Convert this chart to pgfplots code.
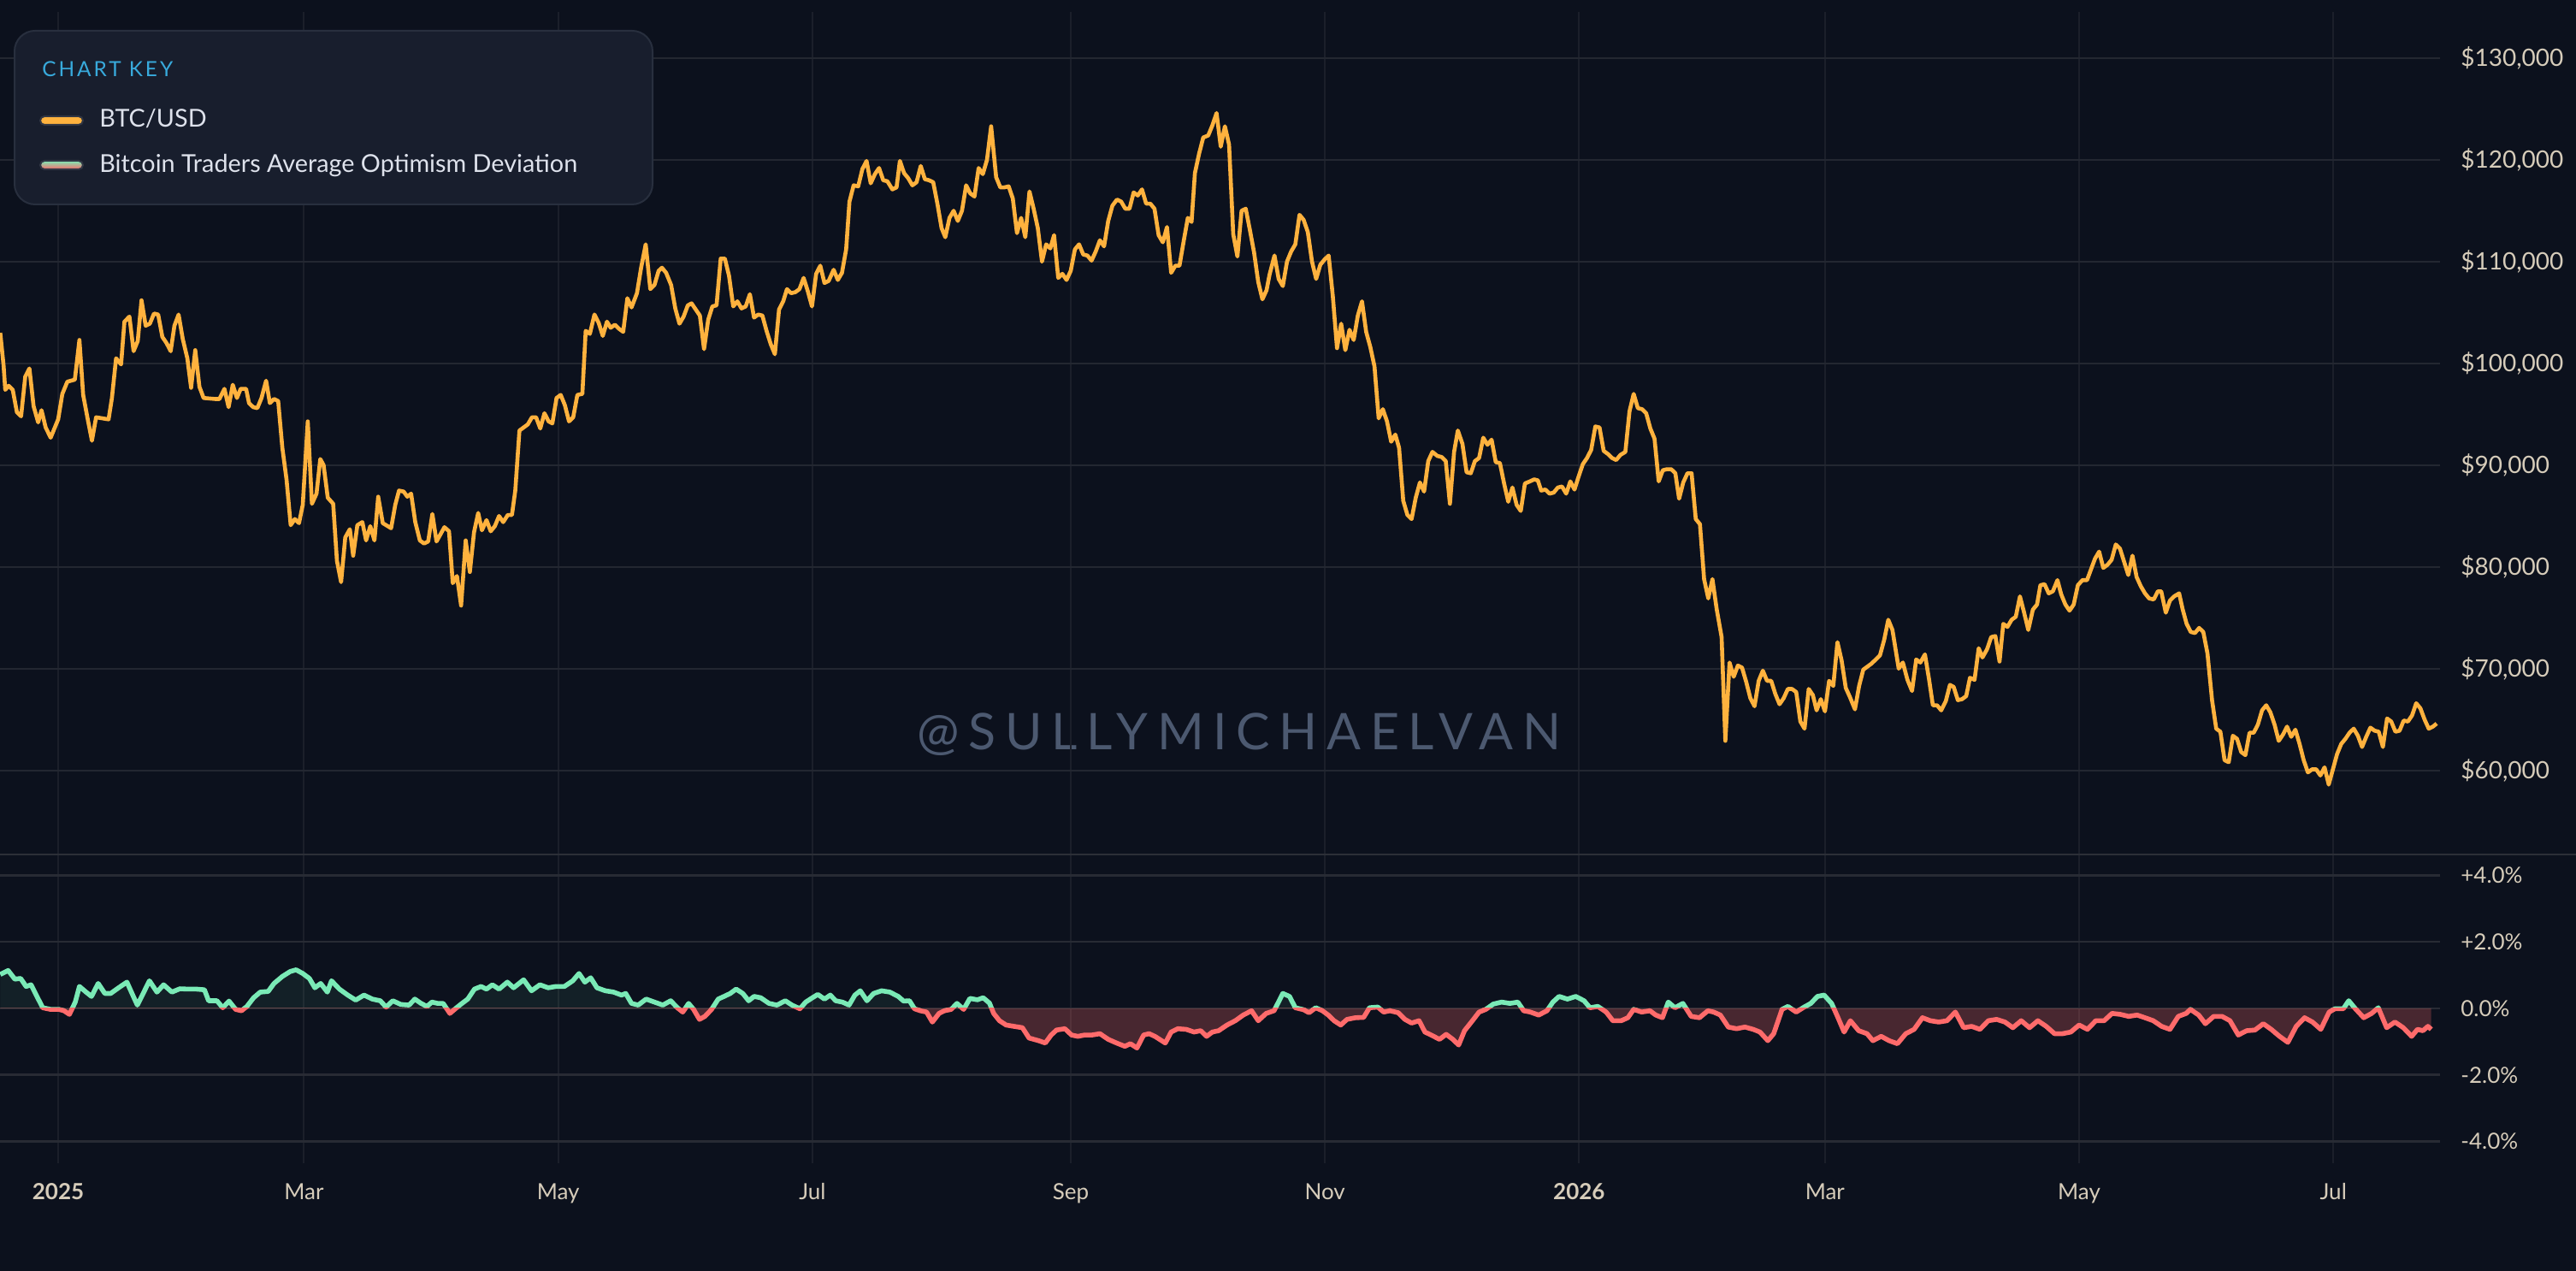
\documentclass[border=0pt]{standalone}
\usepackage{fontspec}
\setmainfont{Lato}
\newfontfamily\keyfont{Lato}[LetterSpace=12]
\newfontfamily\wmfont{Lato}[LetterSpace=18]
\usepackage{pgfplots}
\usepackage{pgfplotstable}
\pgfplotsset{compat=1.18}

\definecolor{bgc}{RGB}{12,17,29}
\definecolor{gridc}{RGB}{35,39,49}
\definecolor{vgridc}{RGB}{27,31,42}
\definecolor{bgridc}{RGB}{40,43,52}
\definecolor{sepc}{RGB}{44,47,55}
\definecolor{orangec}{RGB}{255,178,62}
\definecolor{greenc}{RGB}{122,234,182}
\definecolor{redc}{RGB}{255,107,107}
\definecolor{labc}{RGB}{214,204,186}
\definecolor{legbg}{RGB}{24,30,45}
\definecolor{legbd}{RGB}{40,47,62}
\definecolor{keyc}{RGB}{56,170,220}
\definecolor{legtext}{RGB}{222,226,236}
\definecolor{wmc}{RGB}{76,89,112}
\definecolor{swbd}{RGB}{48,54,68}

% BTC/USD in thousands of dollars; d = days since 1 Jan 2025
\pgfplotstableread{
d v
-13.9 103.0
-13.1 99.8
-12.7 97.4
-11.9 97.8
-10.9 97.4
-9.9 95.2
-8.9 94.8
-7.9 98.7
-6.9 99.5
-5.9 95.8
-4.8 94.2
-4.0 95.4
-3.0 93.7
-1.8 92.7
0.0 94.5
1.0 97.0
2.2 98.2
4.0 98.4
5.1 102.3
6.0 96.9
7.1 94.5
8.1 92.4
9.1 94.7
12.1 94.5
12.9 96.6
13.9 100.5
15.1 99.9
15.9 104.1
17.1 104.6
18.1 101.2
19.1 102.2
20.0 106.2
21.0 103.7
22.0 103.9
23.0 104.9
24.0 104.8
25.0 102.6
26.0 102.0
27.0 101.2
27.9 103.7
28.9 104.8
29.9 102.4
31.0 100.5
31.9 97.6
32.9 101.3
33.9 97.7
34.9 96.6
37.7 96.5
38.7 96.5
39.9 97.5
40.9 95.7
41.9 97.9
42.9 96.6
43.8 97.5
45.1 97.5
45.8 96.1
46.8 95.7
47.8 95.6
48.8 96.6
49.9 98.3
50.8 96.1
51.8 96.5
52.8 96.3
53.8 91.7
54.8 88.6
55.8 84.1
56.8 84.7
57.8 84.3
58.7 86.1
59.9 94.3
60.9 86.2
62.0 87.2
62.9 90.6
63.7 90.0
64.7 86.8
66.0 86.2
66.9 80.6
67.9 78.5
68.9 82.9
70.0 83.7
70.8 81.1
71.8 84.1
73.0 84.4
73.9 82.6
74.9 84.0
75.9 82.6
76.8 86.9
77.9 84.3
79.9 83.8
80.9 86.1
81.8 87.5
82.9 87.4
83.8 86.9
84.7 87.2
85.7 84.4
86.8 82.6
87.8 82.3
88.8 82.5
89.8 85.2
90.8 82.5
92.7 83.9
93.8 83.5
94.7 78.4
95.7 79.1
96.7 76.2
97.8 82.6
98.8 79.5
99.8 83.4
100.8 85.3
101.7 83.6
102.8 84.6
103.8 83.5
104.8 84.0
105.8 85.0
106.8 84.4
107.9 85.1
108.9 85.1
109.7 87.5
110.7 93.4
111.7 93.7
112.7 94.0
113.7 94.7
114.7 94.7
115.7 93.6
116.7 95.1
117.7 94.3
118.6 94.1
119.6 96.6
120.6 96.9
121.6 95.9
122.6 94.3
123.6 94.7
124.6 96.9
125.8 97.0
126.6 103.2
127.6 102.9
128.7 104.8
129.7 104.0
130.7 102.7
131.7 104.1
132.6 103.5
133.6 103.8
134.6 103.4
135.6 103.1
136.6 106.4
137.6 105.5
138.9 106.9
139.9 109.4
141.0 111.7
142.1 107.3
143.1 107.7
144.1 109.1
144.9 109.4
145.9 108.9
147.1 107.7
148.1 105.4
149.1 103.9
150.1 104.6
151.1 105.7
152.0 105.9
153.0 105.3
154.0 104.7
155.0 101.4
156.0 104.3
157.0 105.6
158.0 105.7
159.0 110.3
160.0 110.3
161.0 108.6
162.0 105.6
163.0 106.1
164.0 105.4
165.0 105.6
166.0 106.8
167.0 104.5
168.0 104.8
169.0 104.7
170.0 103.2
171.0 101.9
172.0 100.9
173.0 105.3
174.0 106.1
174.9 107.3
175.9 106.9
176.9 107.0
177.9 107.3
178.9 108.4
179.9 107.1
180.9 105.6
181.9 108.8
182.9 109.6
183.9 107.9
184.9 108.1
186.1 109.2
187.1 108.2
188.1 108.9
189.1 111.2
189.9 115.9
190.9 117.5
192.0 117.4
193.0 119.1
194.0 119.9
195.0 117.7
196.0 118.6
197.0 119.2
198.0 118.0
199.0 117.9
200.2 117.1
201.2 117.3
202.0 119.9
203.0 118.7
204.0 118.2
205.0 117.5
206.0 117.8
207.0 119.4
208.0 118.1
209.0 118.0
210.0 117.8
211.0 115.7
212.0 113.3
212.9 112.4
213.9 114.3
214.9 115.0
215.9 114.0
216.9 115.0
217.9 117.5
218.9 116.7
219.9 116.4
220.9 119.2
221.9 118.6
222.9 120.0
223.9 123.3
225.1 118.3
226.1 117.3
227.1 117.3
228.1 117.4
229.1 116.2
230.1 112.8
231.1 114.3
232.1 112.4
233.1 116.9
234.1 115.2
235.1 113.3
236.1 110.0
237.1 111.7
238.1 111.3
239.0 112.6
240.0 108.4
241.0 108.8
242.0 108.2
243.0 109.1
244.0 111.2
245.0 111.7
246.0 110.7
247.0 110.6
248.0 110.1
249.0 111.0
250.0 112.1
251.0 111.5
252.0 114.0
253.0 115.5
254.1 116.1
255.1 115.9
256.1 115.2
257.1 115.2
258.1 116.8
259.1 116.5
260.1 117.1
261.1 115.7
262.1 115.7
263.1 115.2
264.1 112.6
265.1 111.9
266.1 113.4
267.1 108.9
268.1 109.6
269.1 109.6
270.1 112.0
271.1 114.3
272.0 113.9
272.8 118.7
273.8 120.6
274.8 122.2
276.0 122.4
277.0 123.4
278.0 124.6
279.0 121.3
280.0 123.3
281.0 121.5
282.0 112.7
283.0 110.5
284.0 115.0
285.0 115.2
286.0 113.1
287.0 110.9
288.0 108.0
289.0 106.3
290.0 107.2
290.7 108.7
291.9 110.6
292.9 108.3
293.9 107.6
294.9 110.0
295.9 111.0
296.9 111.7
297.9 114.6
298.9 114.1
299.9 112.9
300.9 110.0
301.9 108.3
302.9 109.7
303.9 110.2
304.9 110.6
305.9 106.6
306.9 101.5
307.9 103.9
308.9 101.3
309.9 103.3
310.9 102.3
311.9 104.7
312.9 106.1
313.9 103.1
314.9 101.6
315.9 99.7
316.9 94.6
317.9 95.5
318.9 94.3
319.9 92.3
320.9 93.0
321.8 91.7
322.8 86.5
323.8 85.1
324.8 84.7
325.8 86.8
326.8 88.3
327.8 87.4
328.8 90.4
329.8 91.3
331.0 90.9
332.0 90.8
333.0 90.4
334.0 86.2
335.0 91.3
335.9 93.4
337.0 92.1
338.0 89.3
339.0 89.2
340.0 90.4
341.0 90.7
342.0 92.7
343.0 92.0
344.0 92.5
345.0 90.3
346.0 90.2
347.0 88.2
348.0 86.4
349.0 87.8
350.0 86.1
351.0 85.5
352.0 88.2
353.2 88.4
354.2 88.6
355.1 88.5
355.9 87.5
356.9 87.6
357.9 87.2
358.9 87.3
359.9 87.8
360.9 87.9
361.9 87.2
362.9 88.4
363.9 87.6
364.9 88.9
365.9 90.1
366.9 90.7
367.9 91.5
368.9 93.8
369.9 93.7
370.9 91.4
371.9 91.1
372.9 90.7
373.9 90.5
374.9 91.0
376.1 91.3
377.1 95.3
378.1 97.0
379.1 95.6
380.1 95.5
381.1 95.1
382.1 93.6
383.1 92.6
384.1 88.4
385.1 89.5
386.1 89.6
387.1 89.6
388.1 89.2
389.0 86.7
390.0 88.3
391.0 89.2
392.0 89.2
393.0 84.7
394.0 84.2
395.0 78.8
396.0 76.9
397.0 78.8
398.0 75.9
399.2 73.1
400.1 62.9
401.1 70.6
402.1 69.2
403.1 70.3
404.1 70.1
405.1 68.7
406.1 67.1
407.1 66.3
408.1 68.8
409.1 69.8
410.1 68.8
411.1 68.8
412.1 67.5
413.1 66.5
414.1 67.1
415.1 68.0
416.1 68.0
417.1 67.7
418.1 64.8
419.1 64.1
420.1 68.0
421.1 67.4
422.0 65.9
423.0 67.0
424.0 65.8
425.0 68.8
426.0 68.3
427.0 72.6
428.0 70.8
429.0 68.1
430.0 67.2
431.2 66.0
432.2 68.3
433.2 69.9
434.2 70.2
435.2 70.5
436.2 70.9
437.2 71.3
438.2 72.8
439.2 74.8
440.2 73.8
441.7 70.0
442.7 70.6
443.8 68.9
444.9 67.8
445.9 70.9
446.9 70.6
448.0 71.4
449.0 68.9
449.9 66.4
450.9 66.4
451.9 65.9
453.0 66.8
454.0 68.4
454.9 68.2
455.9 66.9
456.9 67.0
457.9 67.3
458.8 69.1
459.9 68.9
460.9 72.0
461.8 71.1
462.9 71.9
463.9 73.1
464.9 73.2
465.9 70.7
466.8 74.4
467.8 74.1
468.8 74.8
469.8 75.1
470.8 77.1
471.8 75.5
472.8 73.8
473.9 75.8
474.9 76.3
475.7 78.2
476.7 78.3
477.7 77.4
478.7 77.6
479.8 78.7
480.7 77.3
481.7 76.3
482.7 75.7
483.7 76.3
484.7 78.2
485.8 78.7
486.9 78.7
487.8 79.7
488.8 80.8
489.8 81.5
490.8 79.9
491.8 80.2
492.8 80.7
493.8 82.2
494.8 81.8
495.8 80.5
496.8 79.2
497.8 81.1
498.8 79.0
499.8 78.1
500.8 77.4
501.8 76.9
502.9 76.8
503.9 77.6
504.7 77.6
505.8 75.5
506.8 76.7
507.8 77.1
509.0 77.4
509.8 75.9
510.8 74.4
511.8 73.6
512.8 73.5
513.8 74.0
514.8 73.6
515.8 71.5
516.9 66.9
517.9 64.1
518.9 63.8
519.9 61.0
520.9 60.8
521.9 63.4
522.9 63.1
523.9 61.8
524.9 61.5
525.9 63.7
526.9 63.7
527.9 64.5
528.9 65.9
529.9 66.4
530.9 65.7
531.9 64.5
532.9 62.9
533.9 63.5
534.9 64.3
535.9 63.3
536.9 64.0
537.9 62.6
538.9 61.0
539.9 59.8
540.9 60.1
541.9 60.1
542.9 59.5
543.9 60.3
544.9 58.6
545.9 60.1
546.9 61.6
547.9 62.6
548.9 63.1
549.9 63.7
550.9 64.1
551.9 63.4
552.9 62.3
553.9 63.3
554.9 64.2
555.9 63.9
556.9 63.8
557.9 62.3
558.9 65.1
559.9 64.8
560.9 63.8
561.9 63.9
562.9 64.9
563.9 64.8
564.9 65.4
565.9 66.6
566.9 66.1
567.9 65.0
568.9 64.1
569.9 64.3
570.8 64.6
}\btc

% Bitcoin Traders Average Optimism Deviation, percent
\pgfplotstableread{
d v
-13.9 1.02
-12.0 1.14
-10.4 0.88
-9.0 0.90
-7.7 0.66
-6.5 0.71
-5.1 0.36
-3.7 0.02
-1.8 -0.03
0.2 -0.03
1.4 -0.07
2.7 -0.18
4.1 0.19
5.1 0.66
6.7 0.49
8.0 0.36
9.6 0.75
11.2 0.45
12.6 0.45
14.5 0.62
16.5 0.79
17.9 0.40
19.0 0.10
20.4 0.45
21.9 0.83
23.7 0.49
25.3 0.71
27.3 0.49
29.2 0.59
31.2 0.58
33.2 0.58
35.1 0.56
36.1 0.23
38.1 0.23
39.5 0.02
41.0 0.22
42.6 -0.03
44.0 -0.07
45.3 0.06
46.9 0.32
48.5 0.49
50.4 0.51
51.8 0.75
53.8 0.96
55.7 1.11
57.1 1.16
58.7 1.05
60.3 0.90
61.6 0.62
63.0 0.75
64.6 0.49
65.6 0.83
67.5 0.58
69.5 0.40
71.4 0.25
73.4 0.40
75.4 0.28
77.3 0.23
78.7 0.04
80.3 0.23
82.2 0.12
84.2 0.10
85.6 0.28
87.1 0.15
88.5 0.06
89.7 0.19
91.1 0.15
92.4 0.15
94.0 -0.15
95.6 0.02
96.9 0.15
98.3 0.28
99.9 0.58
101.5 0.66
102.8 0.58
104.2 0.71
105.8 0.58
107.8 0.79
109.3 0.62
111.7 0.86
113.6 0.53
115.6 0.71
117.6 0.62
119.5 0.66
121.5 0.66
123.5 0.83
125.0 1.05
126.4 0.79
127.8 0.92
129.3 0.62
131.3 0.53
133.3 0.49
135.2 0.40
136.2 0.45
137.6 0.15
139.2 0.10
141.1 0.28
143.1 0.19
145.1 0.10
147.0 0.23
148.6 0.02
149.9 -0.11
151.3 0.15
152.5 -0.03
153.9 -0.33
155.2 -0.24
156.8 -0.03
158.4 0.28
159.8 0.36
161.3 0.45
162.7 0.58
164.3 0.45
165.7 0.23
167.0 0.36
168.6 0.32
170.6 0.15
172.5 0.10
174.5 0.23
176.1 0.10
178.0 -0.01
179.4 0.19
181.0 0.32
182.3 0.42
183.9 0.28
185.3 0.40
186.6 0.23
188.2 0.19
189.8 0.10
191.2 0.40
192.5 0.53
194.1 0.23
195.7 0.45
197.6 0.53
199.6 0.49
201.6 0.36
202.9 0.22
204.3 0.23
205.5 -0.01
206.9 -0.07
208.4 -0.11
209.8 -0.41
211.4 -0.15
212.7 -0.07
214.3 -0.03
215.7 0.15
217.3 -0.03
218.8 0.30
220.6 0.26
222.0 0.32
223.5 0.16
224.5 -0.15
225.9 -0.37
227.5 -0.50
229.4 -0.54
231.4 -0.58
233.0 -0.89
235.3 -0.97
236.9 -1.04
238.3 -0.80
239.6 -0.65
241.6 -0.61
243.2 -0.80
244.7 -0.84
246.3 -0.80
248.1 -0.80
250.0 -0.76
252.0 -0.93
254.0 -1.04
256.0 -1.14
257.3 -1.06
258.9 -1.19
260.5 -0.80
261.8 -0.76
263.2 -0.84
265.7 -1.04
267.1 -0.71
268.7 -0.61
270.7 -0.63
272.6 -0.71
274.2 -0.67
275.6 -0.84
277.0 -0.71
278.5 -0.67
280.5 -0.50
282.5 -0.37
284.4 -0.20
286.4 -0.07
288.0 -0.37
289.9 -0.15
291.8 -0.07
293.9 0.45
295.5 0.36
296.9 0.02
298.9 -0.04
300.2 -0.13
301.8 0.02
303.4 -0.07
304.8 -0.20
306.2 -0.37
307.8 -0.50
309.3 -0.33
311.3 -0.28
313.3 -0.27
314.7 0.02
316.7 0.04
318.1 -0.11
319.6 -0.07
321.6 -0.13
323.2 -0.33
324.8 -0.44
326.6 -0.37
328.0 -0.71
329.5 -0.80
331.5 -0.93
333.1 -0.78
334.7 -0.93
336.1 -1.10
337.5 -0.67
339.4 -0.37
341.0 -0.11
342.6 -0.03
344.4 0.13
346.4 0.19
348.4 0.15
350.3 0.19
351.7 -0.07
353.3 -0.11
355.3 -0.20
357.3 -0.07
358.7 0.19
360.2 0.36
362.2 0.28
364.2 0.36
366.2 0.23
367.6 0.02
369.5 0.06
371.5 -0.11
373.1 -0.37
375.1 -0.37
376.7 -0.28
378.1 -0.03
380.0 -0.11
382.0 -0.07
383.4 -0.20
385.0 -0.28
386.4 0.19
388.0 0.02
389.9 0.15
391.9 -0.24
393.9 -0.28
395.9 -0.07
397.3 -0.11
398.9 -0.20
400.8 -0.56
402.8 -0.61
404.8 -0.56
406.8 -0.63
408.4 -0.71
410.3 -0.97
411.7 -0.76
413.7 -0.03
415.1 0.06
417.1 -0.11
419.0 0.04
420.6 0.15
422.2 0.36
423.8 0.40
425.6 0.15
427.0 -0.24
428.6 -0.71
430.1 -0.37
432.1 -0.67
434.1 -0.76
435.5 -0.97
437.5 -0.84
439.4 -0.97
441.4 -1.06
443.4 -0.76
445.4 -0.63
447.4 -0.28
449.3 -0.37
451.3 -0.41
453.3 -0.37
455.3 -0.11
457.3 -0.58
459.2 -0.54
461.2 -0.63
463.2 -0.37
465.2 -0.33
467.2 -0.41
469.1 -0.58
471.1 -0.37
473.1 -0.58
475.1 -0.37
477.1 -0.54
479.1 -0.76
481.0 -0.76
483.0 -0.71
485.0 -0.50
487.0 -0.63
489.0 -0.37
491.0 -0.37
492.9 -0.15
494.9 -0.18
496.9 -0.24
498.9 -0.20
500.8 -0.28
502.8 -0.37
504.8 -0.54
506.8 -0.63
508.8 -0.24
510.7 -0.15
511.7 -0.03
513.7 -0.20
515.3 -0.46
517.3 -0.24
519.3 -0.24
521.2 -0.37
523.2 -0.80
525.2 -0.67
527.2 -0.65
529.2 -0.46
531.1 -0.63
533.1 -0.84
535.1 -1.02
537.1 -0.54
539.1 -0.28
541.0 -0.41
543.0 -0.63
545.0 -0.11
546.4 -0.01
548.4 -0.01
549.7 0.23
551.3 -0.01
553.3 -0.28
555.2 -0.15
556.8 0.02
558.8 -0.58
560.8 -0.41
562.8 -0.58
564.8 -0.84
566.2 -0.63
567.5 -0.67
568.7 -0.54
569.5 -0.63
}\dev

\pgfplotsset{
  base/.style={
    anchor=south west, scale only axis, width=1426.5pt,
    xmin=-13.96, xmax=571.6,
    axis line style={draw=none}, tick style={draw=none},
    xtick={0,59,120,181,243,304,365,424,485,546},
  },
  ylab/.style={
    yticklabel pos=right,
    yticklabel style={anchor=west, inner sep=0pt, xshift=12pt,
      font=\fontsize{#1}{#1}\selectfont, text=labc},
  },
}

\begin{document}
\begin{tikzpicture}
\useasboundingbox (0,0) rectangle (1506pt,743pt);
\fill[bgc] (0,0) rectangle (1506pt,743pt);

% watermark (under the grid)
\begin{scope}[shift={(0pt,743pt)}, x=0.5pt, y=-0.5pt]
  \node[anchor=base, inner sep=0pt, text=wmc,
    font=\wmfont\fontsize{29.5}{29.5}\selectfont] at (1449,877) {@SULLYMICHAELVAN};
\end{scope}

% price panel
\begin{axis}[base, at={(0pt,243.5pt)}, height=492.5pt,
  ymin=51.737, ymax=134.539,
  xticklabels={},
  ytick={60,70,80,90,100,110,120,130},
  yticklabels={{\$60,000},{\$70,000},{\$80,000},{\$90,000},{\$100,000},{\$110,000},{\$120,000},{\$130,000}},
  ylab=14,
  xmajorgrids, ymajorgrids,
  x grid style={vgridc, line width=1pt},
  y grid style={gridc, line width=1pt}]
\addplot[orangec, line width=2.3pt, line join=round, mark=none] table[x=d,y=v]{\btc};
\end{axis}

% deviation panel: grid and labels
\begin{axis}[base, at={(0pt,63pt)}, height=180.5pt,
  ymin=-4.653, ymax=4.627,
  xticklabels={\textbf{2025},Mar,May,Jul,Sep,Nov,\textbf{2026},Mar,May,Jul},
  xticklabel style={anchor=base, inner sep=0pt, yshift=-21.5pt,
    font=\fontsize{13}{13}\selectfont, text=labc},
  ytick={-4,-2,0,2,4},
  yticklabels={-4.0\%,-2.0\%,0.0\%,+2.0\%,+4.0\%},
  ylab=13,
  xmajorgrids, ymajorgrids,
  x grid style={vgridc, line width=1pt},
  y grid style={bgridc, line width=1.3pt}]
\addplot[draw=none, mark=none] coordinates {(0,0) (100,1)};
\end{axis}

% positive part (clipped at 0)
\begin{axis}[base, at={(0pt,153.5pt)}, height=90pt,
  ymin=0, ymax=4.627, xticklabels={}, yticklabels={}, clip=true]
\addplot[fill=greenc, fill opacity=0.07, draw=none] table[x=d,y=v]{\dev}
  -- (axis cs:569.5,0) -- (axis cs:-13.9,0) -- cycle;
\addplot[greenc, line width=2.8pt, line join=round, mark=none] table[x=d,y=v]{\dev};
\end{axis}

% negative part (clipped at 0)
\begin{axis}[base, at={(0pt,63pt)}, height=90.5pt,
  ymin=-4.653, ymax=0, xticklabels={}, yticklabels={}, clip=true]
\addplot[fill=redc, fill opacity=0.25, draw=none] table[x=d,y=v]{\dev}
  -- (axis cs:569.5,0) -- (axis cs:-13.9,0) -- cycle;
\addplot[redc, line width=2.8pt, line join=round, mark=none] table[x=d,y=v]{\dev};
\end{axis}

\begin{scope}[shift={(0pt,743pt)}, x=0.5pt, y=-0.5pt]
  % separator
  \draw[sepc, line width=1.3pt] (0,999) -- (3012,999);
  % chart key
  \fill[legbg, draw=legbd, line width=1pt, rounded corners=12pt] (17,36) rectangle (763,239);
  \node[anchor=base west, inner sep=0pt, text=keyc,
    font=\keyfont\fontsize{12.2}{12.2}\selectfont] at (49,90) {CHART KEY};
  \fill[orangec, draw=swbd, line width=1pt, rounded corners=2.5pt] (47,136) rectangle (97,146);
  \node[anchor=base west, inner sep=0pt, text=legtext,
    font=\fontsize{14.4}{14.4}\selectfont] at (116,149) {BTC/USD};
  \shade[top color=greenc, bottom color=redc, rounded corners=2.5pt] (47,188) rectangle (97,198);
  \draw[swbd, line width=1pt, rounded corners=2.5pt] (47,188) rectangle (97,198);
  \node[anchor=base west, inner sep=0pt, text=legtext,
    font=\fontsize{14.4}{14.4}\selectfont] at (116,202) {Bitcoin Traders Average Optimism Deviation};
\end{scope}
\end{tikzpicture}
\end{document}
